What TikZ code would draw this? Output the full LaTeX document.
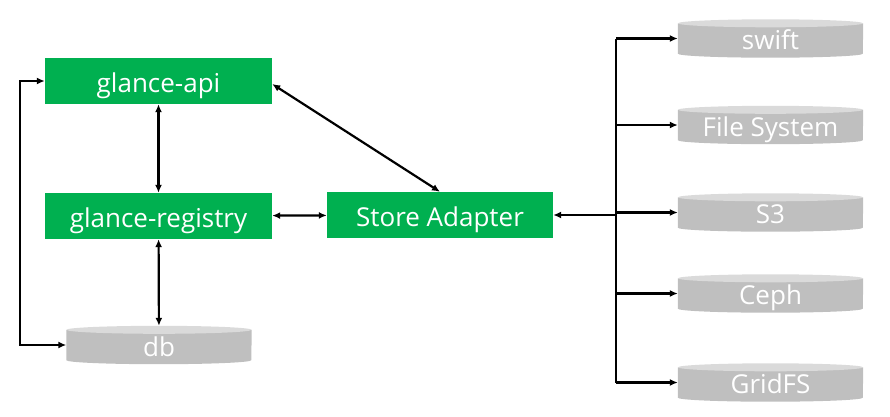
\documentclass[tikz,border=0pt]{standalone}
\usepackage{fontspec}
\setmainfont{Open Sans}
\usepackage{tikz}
\usetikzlibrary{arrows.meta}
\usetikzlibrary{positioning}
\usetikzlibrary{backgrounds}

\definecolor{boxgreen}{HTML}{00B050}
\definecolor{dbbody}{HTML}{BFBFBF}
\definecolor{dbtop}{HTML}{DADADA}

\begin{document}
\begin{tikzpicture}[x=1pt,y=-1pt]
\tikzstyle{box}=[rectangle,fill=boxgreen,text=white,minimum width=227pt,minimum height=46pt,inner sep=0pt,text height=25pt,text depth=2pt,font=\fontsize{26}{28}\selectfont];
\tikzstyle{store}=[rectangle,text=white,minimum width=185pt,minimum height=38pt,inner sep=0pt,text height=24pt,text depth=2pt,font=\fontsize{26}{28}\selectfont];
\tikzstyle{myarrow}=[line width=2.2pt,draw=black,-{Latex[length=8pt,width=7pt]}];
\tikzstyle{myboth}=[line width=2.2pt,draw=black,{Latex[length=8pt,width=7pt]}-{Latex[length=8pt,width=7pt]}];

\useasboundingbox (0,0) rectangle (890,416);

\node[box] (api) at (158.5,81) {glance-api};
\node[box] (registry) at (158.5,216) {glance-registry};
\node[box,minimum width=226pt] (adapter) at (440,215) {Store Adapter};
\node[store] (db) at (159,345) {db};

\def \storex{770.5};
\node[store] (swift) at (\storex,38.5) {swift};
\node[store] (fs) at (\storex,125) {File System};
\node[store] (s3) at (\storex,212.5) {S3};
\node[store] (ceph) at (\storex,293.5) {Ceph};
\node[store] (gridfs) at (\storex,382.5) {GridFS};

% disks behind the texts
\begin{scope}[on background layer]
\foreach \s in {db,swift,fs,s3,ceph,gridfs} {
  \fill[dbbody] ([yshift=-4pt]\s.north west) -- ([yshift=4pt]\s.south west)
    arc[start angle=180,end angle=360,x radius=92.5pt,y radius=4pt]
    -- ([yshift=-4pt]\s.north east) -- cycle;
  \fill[dbtop] ([yshift=-4pt]\s.north) ellipse [x radius=92.5pt,y radius=4pt];
}
\end{scope}

\draw [myboth] (api) -- (registry);
\draw [myboth] (registry) -- (db);
\draw [myboth] (registry) -- (adapter);
\draw [myboth] (api.west) -- ++(-25,0) |- (db.west); % loop on the left
\draw [myboth] ([yshift=-3pt]api.east) -- (adapter.north);

\coordinate (bus) at (616,215);
\draw [myarrow] (bus) -- (adapter.east);
\draw [line width=2.2pt] (bus |- swift.west) -- (bus |- gridfs.west);
\foreach \s in {swift,fs,s3,ceph,gridfs}
  \draw [myarrow] (bus |- \s.west) -- (\s.west);

\end{tikzpicture}
\end{document}
